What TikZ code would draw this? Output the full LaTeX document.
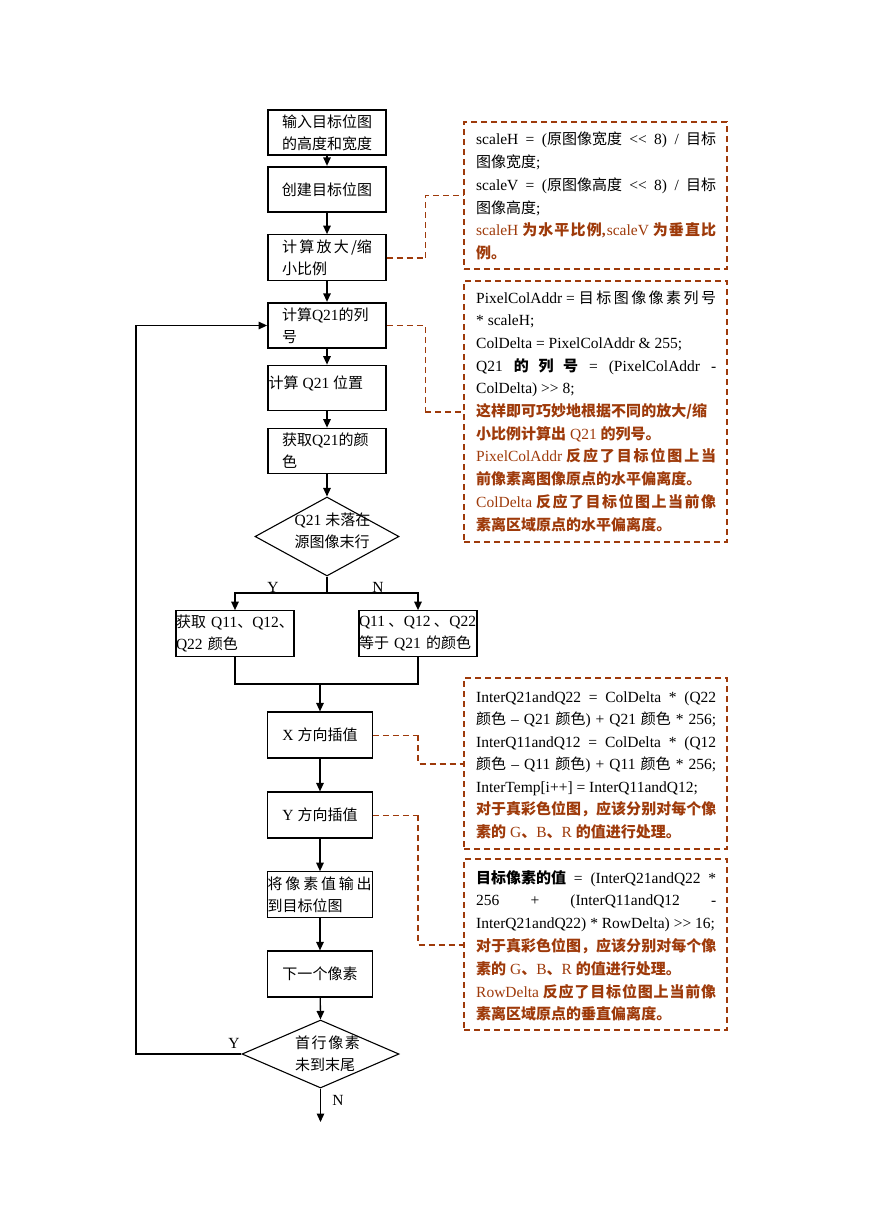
\documentclass[tikz,border=0pt]{standalone}
\usepackage{fontspec}
\setmainfont{Liberation Serif}
\newfontfamily\zhfont{Noto Sans CJK SC}[Scale=0.968]
\newcommand\zh[1]{{\zhfont #1}}
\def\spz#1{\spzA#1\relax}
\def\spzA#1#2{#1\ifx\relax#2\else\hspace{0pt plus 1fil}\expandafter\spzA\expandafter#2\fi}
\usetikzlibrary{arrows.meta,shapes.geometric}
\definecolor{anncol}{RGB}{158,58,10}
\begin{document}
\begin{tikzpicture}[x=1pt,y=-1pt,
  font=\fontsize{15.5}{22}\selectfont,
  fbox/.style={draw, line width=1.2pt, minimum width=118pt, minimum height=45.5pt, inner sep=0pt, align=left},
  fboxn/.style={fbox, minimum width=104.6pt, minimum height=46pt},
  heavy/.style={line width=1.8pt},
  dia/.style={draw, shape=diamond, line width=1.1pt, inner sep=0pt},
  plain/.style={inner sep=0pt, align=left},
  lbl/.style={inner sep=0pt},
  ln/.style={line width=1.3pt},
  arr/.style={line width=1.3pt, -{Triangle[length=8.5pt,width=7.5pt]}},
  dthin/.style={draw=anncol, line width=1pt, dash pattern=on 6pt off 4pt},
  dthick/.style={draw=anncol, line width=2pt, dash pattern=on 6pt off 4pt},
  annbox/.style={draw=anncol, line width=1.2pt, dash pattern=on 6pt off 4pt, minimum width=263pt, inner sep=0pt},
  annt/.style={inner sep=0pt, anchor=base west},
  brown/.style={text=anncol}
]
\useasboundingbox (0,0) rectangle (869,1228);
\newcommand\annline[4][]{\node[annt,#1] (#2) at (476,#3) {#4};}
\newcommand\fw[1]{\makebox[240pt][s]{#1}}

% ---------- main flow ----------
\node[fbox,heavy,text width=90pt] (b1) at (327,132.5) {\zh{输入目标位图}\\\zh{的高度和宽度}};
\node[fbox,heavy] (b2) at (327,189.5) {\zh{创建目标位图}};
\node[fbox,text width=90pt] (b3) at (327,257.5) {\makebox[90pt][s]{\zh{\spz{计算放大}\hspace{0pt plus 1fil}/缩}}\\\zh{小比例}};
\node[fbox,heavy,text width=90pt] (b4) at (327,325.5) {\zh{计算}Q21\zh{的列}\\\zh{号}};
\node[fbox] (b5) at (327,388) {};
\node[plain,anchor=west] (t5) at (268.5,383) {\zh{计算} Q21 \zh{位置}};
\node[fbox,text width=90pt] (b6) at (327,451) {\zh{获取}Q21\zh{的颜}\\\zh{色}};
\node[dia,minimum width=144pt,minimum height=79pt] (d1) at (327,536.5) {};
\node[plain] (t7) at (332.5,531) {Q21 \zh{未落在}\\\zh{源图像末行}};

\node[fbox,text width=118pt] (b7) at (235,633.5) {\mbox{\zh{获取} Q11\zh{、}Q12\zh{、}}\\Q22 \zh{颜色}};
\node[fbox,text width=118pt] (b8) at (418,633.5) {\makebox[117pt][s]{Q11\hspace{3pt plus 1fil}\zh{、}\hfil Q12\hspace{3pt plus 1fil}\zh{、}\hfil Q22}\\\zh{等于} Q21 \zh{的颜色}};

\node[fboxn] (b9) at (320,735) {X \zh{方向插值}};
\node[fboxn] (b10) at (320,815) {Y \zh{方向插值}};
\node[fboxn,minimum height=45.5pt,text width=104.6pt] (b11) at (320,894.5) {\makebox[104pt][s]{\zh{\spz{将像素值输出}}}\\\zh{到目标位图}};
\node[fboxn] (b12) at (320,974) {\zh{下一个像素}};
\node[dia,minimum width=157pt,minimum height=68pt] (d2) at (320.5,1054) {};
\node[plain,text width=65pt] (t13) at (327.5,1054) {\makebox[65pt][s]{\zh{\spz{首行像素}}}\\\zh{未到末尾}};

% labels
\node[lbl] (ly1) at (273,587) {Y};
\node[lbl] (ln1) at (378,587) {N};
\node[lbl] (ly2) at (234,1043) {Y};
\node[lbl] (ln2) at (338,1100) {N};

% connectors
\draw[arr] (b1) -- (b2);
\draw[arr] (b2) -- (b3);
\draw[arr] (b3) -- (b4);
\draw[arr] (b4) -- (b5);
\draw[arr] (b5) -- (b6);
\draw[arr] (b6) -- (d1.north);
\coordinate (br) at (327,593);
\draw[ln] (d1.south) -- (br);
\draw[arr] (br) -| (b7.north);
\draw[arr] (br) -| (b8.north);
\coordinate (mg) at (320,684);
\draw[ln] (b7.south) |- (mg) -| (b8.south);
\draw[arr] (mg) -- (b9.north);
\draw[arr] (b9) -- (b10);
\draw[arr] (b10) -- (b11);
\draw[arr] (b11) -- (b12);
\draw[arr] (b12) -- (d2.north);
\coordinate (endp) at (320.5,1122);
\draw[arr] (d2.south) -- (endp);
\coordinate (lp) at (136,1054);
\draw[arr] (d2.west) -- (lp) |- (b4.west);

% ---------- annotation boxes ----------
\node[annbox,minimum height=147pt] (a1) at (595.5,195.5) {};
\node[annbox,minimum height=261pt] (a2) at (595.5,411.5) {};
\node[annbox,minimum height=171pt] (a3) at (595.5,763.5) {};
\node[annbox,minimum height=171pt] (a4) at (595.5,944.5) {};

% dashed links
\coordinate (k1) at (425,257.5);
\draw[dthick] (b3.east) -- (k1);
\draw[dthin] (k1) |- (a1.west);
\coordinate (k2) at (425,411.5);
\draw[dthin] (b4.east) -| (k2);
\draw[dthick] (k2) -- (a2.west);
\coordinate (k3) at (418,735);
\draw[dthin] (b9.east) -- (k3);
\draw[dthick] (k3) |- (a3.west);
\coordinate (k4) at (418,815);
\draw[dthin] (b10.east) -- (k4);
\draw[dthick] (k4) |- (a4.west);

% ---------- annotation texts ----------
\annline{a1l1}{145}{\fw{scaleH = (\zh{原图像宽度} <{}< 8) / \zh{目标}}}
\annline{a1l2}{167.7}{\zh{图像宽度};}
\annline{a1l3}{190.4}{\fw{scaleV = (\zh{原图像高度} <{}< 8) / \zh{目标}}}
\annline{a1l4}{213.1}{\zh{图像高度};}
\annline[brown]{a1l5}{235.8}{\fw{scaleH \textbf{\zh{\spz{为水平比例}},}\hspace{0pt plus 1fil}scaleV \textbf{\zh{\spz{为垂直比}}}}}
\annline[brown]{a1l6}{258.5}{\textbf{\zh{例。}}}

\annline{a2l1}{303}{\fw{PixelColAddr = \zh{\spz{目标图像像素列号}}}}
\annline{a2l2}{325.7}{* scaleH;}
\annline{a2l3}{348.4}{ColDelta = PixelColAddr \& 255;}
\annline{a2l4}{371.1}{\fw{Q21 \textbf{\zh{的 列 号}} = (PixelColAddr -}}
\annline{a2l5}{393.8}{ColDelta) >{}> 8;}
\annline[brown]{a2l6}{416.5}{\textbf{\zh{这样即可巧妙地根据不同的放大/缩}}}
\annline[brown]{a2l7}{439.2}{\textbf{\zh{小比例计算出}} Q21 \textbf{\zh{的列号。}}}
\annline[brown]{a2l8}{461.9}{\fw{PixelColAddr \textbf{\zh{\spz{反应了目标位图上当}}}}}
\annline[brown]{a2l9}{484.6}{\textbf{\zh{前像素离图像原点的水平偏离度。}}}
\annline[brown]{a2l10}{507.3}{\fw{ColDelta \textbf{\zh{\spz{反应了目标位图上当前像}}}}}
\annline[brown]{a2l11}{530}{\textbf{\zh{素离区域原点的水平偏离度。}}}

\annline{a3l1}{702}{\fw{InterQ21andQ22 = ColDelta * (Q22}}
\annline{a3l2}{724.5}{\fw{\zh{颜色} -- Q21 \zh{颜色}) + Q21 \zh{颜色} * 256;}}
\annline{a3l3}{747}{\fw{InterQ11andQ12 = ColDelta * (Q12}}
\annline{a3l4}{769.5}{\fw{\zh{颜色} -- Q11 \zh{颜色}) + Q11 \zh{颜色} * 256;}}
\annline{a3l5}{792}{InterTemp[i++] = InterQ11andQ12;}
\annline[brown]{a3l6}{814.5}{\textbf{\zh{对于真彩色位图，应该分别对每个像}}}
\annline[brown]{a3l7}{837}{\textbf{\zh{素的}} G\textbf{\zh{、}}B\textbf{\zh{、}}R \textbf{\zh{的值进行处理。}}}

\annline{a4l1}{883}{\fw{\textbf{\zh{目标像素的值}} = (InterQ21andQ22 *}}
\annline{a4l2}{905.8}{\fw{256 + (InterQ11andQ12 -}}
\annline{a4l3}{928.6}{InterQ21andQ22) * RowDelta) >{}> 16;}
\annline[brown]{a4l4}{951.4}{\textbf{\zh{对于真彩色位图，应该分别对每个像}}}
\annline[brown]{a4l5}{974.2}{\textbf{\zh{素的}} G\textbf{\zh{、}}B\textbf{\zh{、}}R \textbf{\zh{的值进行处理。}}}
\annline[brown]{a4l6}{997}{\fw{RowDelta \textbf{\zh{\spz{反应了目标位图上当前像}}}}}
\annline[brown]{a4l7}{1019.8}{\textbf{\zh{素离区域原点的垂直偏离度。}}}
\end{tikzpicture}
\end{document}
